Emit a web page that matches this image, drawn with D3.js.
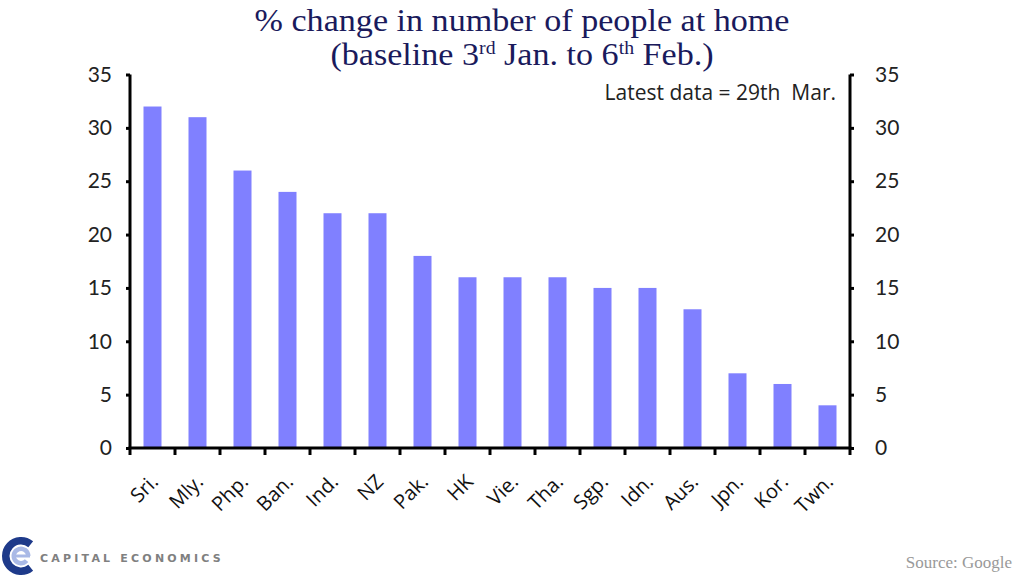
<!DOCTYPE html>
<html><head><meta charset="utf-8">
<script src="https://cdn.jsdelivr.net/npm/d3@7"></script>
<style>html,body{margin:0;padding:0;background:#fff;}svg{display:block;}</style>
</head><body>
<svg id="chart" width="1024" height="583"></svg>
<script>
const categories = ["Sri.","Mly.","Php.","Ban.","Ind.","NZ","Pak.","HK","Vie.","Tha.","Sgp.","Idn.","Aus.","Jpn.","Kor.","Twn."];
const values = [32,31,26,24,22,22,18,16,16,16,15,15,13,7,6,4];
const yTicks = [0,5,10,15,20,25,30,35];

(function(){
const svg = d3.select("#chart");
const pLeft = 130, pRight = 850, pTop = 74.5, pBottom = 448;
const sans = "Lato, 'Open Sans', sans-serif";
const sans2 = "'Open Sans', Lato, sans-serif";

const y = d3.scaleLinear().domain([0,35]).range([pBottom, pTop]);
const xEdge = d3.scaleBand().domain(categories).range([pLeft, pRight]).padding(0);
const xBar = d3.scaleBand().domain(categories).range([pLeft, pRight]).paddingInner(0.6).paddingOuter(0.3);

// bars
svg.append("g").selectAll("rect").data(categories).join("rect")
  .attr("x", d => xBar(d))
  .attr("width", xBar.bandwidth())
  .attr("y", (d,i) => y(values[i]))
  .attr("height", (d,i) => y(0) - y(values[i]))
  .attr("fill", "#8080ff");

// left axis
const gl = svg.append("g").attr("transform", `translate(${pLeft},0)`)
  .call(d3.axisLeft(y).tickValues(yTicks).tickSize(4).tickPadding(14));
// right axis
const gr = svg.append("g").attr("transform", `translate(${pRight},0)`)
  .call(d3.axisRight(y).tickValues(yTicks).tickSize(4).tickPadding(21));
[gl, gr].forEach(g => {
  g.select(".domain").attr("stroke", "#000").attr("stroke-width", 3)
    .attr("d", `M0,${pTop}V${pBottom}`);
  g.selectAll(".tick line").attr("stroke", "#000").attr("stroke-width", 3);
  g.selectAll(".tick text").attr("font-family", sans).attr("font-size", 21).attr("fill", "#222");
});

// x axis
const edges = categories.map(c => xEdge(c)).concat([pRight]);
const gx = svg.append("g");
gx.append("line").attr("x1", pLeft - 1.5).attr("x2", pRight + 1.5).attr("y1", pBottom).attr("y2", pBottom)
  .attr("stroke", "#000").attr("stroke-width", 3);
gx.selectAll("line.tk").data(edges).join("line").attr("class","tk")
  .attr("x1", d => d).attr("x2", d => d).attr("y1", pBottom).attr("y2", pBottom + 7)
  .attr("stroke", "#000").attr("stroke-width", 3);
gx.selectAll("text").data(categories).join("text")
  .attr("transform", d => `translate(${xEdge(d) + xEdge.bandwidth()/2 + 7},${pBottom + 35}) rotate(-45)`)
  .attr("text-anchor", "end")
  .attr("font-family", sans2).attr("font-size", 20).attr("fill", "#111")
  .text(d => d);

// title
const title = svg.append("g").attr("font-family", "'Liberation Serif', serif").attr("fill", "#1a1a5c")
  .attr("text-anchor", "middle").attr("transform", "translate(522,0) scale(1.1,1)");
title.append("text").attr("x", 0).attr("y", 31).attr("font-size", 31)
  .text("% change in number of people at home");
const t2 = title.append("text").attr("x", 0).attr("y", 65).attr("font-size", 31);
t2.append("tspan").text("(baseline 3");
t2.append("tspan").attr("font-size", 18).attr("dy", -11).text("rd");
t2.append("tspan").attr("dy", 11).text(" Jan. to 6");
t2.append("tspan").attr("font-size", 18).attr("dy", -11).text("th");
t2.append("tspan").attr("dy", 11).text(" Feb.)");

// note
svg.append("text").attr("x", 836).attr("y", 100).attr("text-anchor", "end")
  .attr("font-family", sans2).attr("font-size", 21).attr("fill", "#222")
  .text("Latest data = 29th\u00a0 Mar.");

// source
svg.append("text").attr("x", 1012).attr("y", 568).attr("text-anchor", "end")
  .attr("font-family", "'Liberation Serif', serif").attr("font-size", 17).attr("fill", "#999")
  .text("Source: Google");

// logo
const logo = svg.append("g").attr("transform", "translate(21,556)");
logo.append("path").attr("fill", "#1e3a8a")
  .attr("d", d3.arc().innerRadius(11.5).outerRadius(19).startAngle(Math.PI*0.78).endAngle(Math.PI*2.22)());
logo.append("path").attr("fill", "#a9b9e6")
  .attr("d", d3.arc().innerRadius(5).outerRadius(9.5).startAngle(Math.PI*0.72).endAngle(Math.PI*2.5)());
logo.append("rect").attr("x", -5).attr("y", -1.5).attr("width", 14).attr("height", 3).attr("fill", "#a9b9e6");
svg.append("text").attr("x", 40).attr("y", 562).attr("font-family", "'DejaVu Sans', sans-serif")
  .attr("font-weight", "bold").attr("font-size", 11).attr("letter-spacing", 3.2).attr("fill", "#808080")
  .text("CAPITAL ECONOMICS");
})();
</script>
</body></html>
